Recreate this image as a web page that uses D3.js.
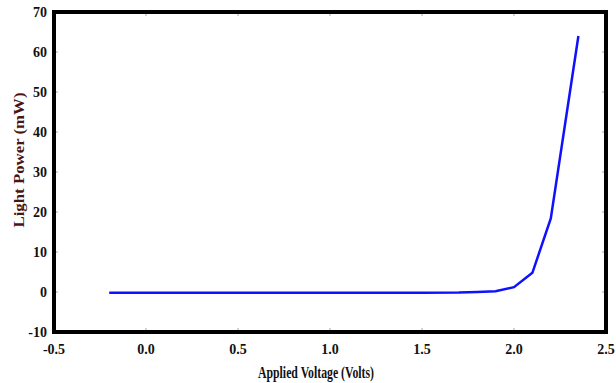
<!DOCTYPE html>
<html>
<head>
<meta charset="utf-8">
<script src="https://cdn.jsdelivr.net/npm/d3@7"></script>
<style>
  body { margin: 0; background: #fff; }
  svg text { font-family: "Liberation Serif", "Times New Roman", serif; font-weight: bold; }
</style>
</head>
<body>
<div id="chart"></div>
<script>
// data
const voltage = [-0.2, 0.5, 1.0, 1.5, 1.7, 1.8, 1.9, 2.0, 2.1, 2.2, 2.35];
const power   = [-0.2, -0.2, -0.2, -0.2, -0.15, 0.0, 0.2, 1.2, 4.8, 18.4, 64];
const xTicks = [-0.5, 0.0, 0.5, 1.0, 1.5, 2.0, 2.5];
const yTicks = [-10, 0, 10, 20, 30, 40, 50, 60, 70];

const W = 616, H = 383;
const MARGIN = { LEFT: 54, RIGHT: 10, TOP: 12, BOTTOM: 51 };
const width = W - MARGIN.LEFT - MARGIN.RIGHT;
const height = H - MARGIN.TOP - MARGIN.BOTTOM;

const svg = d3.select("#chart").append("svg")
    .attr("width", W)
    .attr("height", H);

const g = svg.append("g")
    .attr("transform", `translate(${MARGIN.LEFT}, ${MARGIN.TOP})`);

const x = d3.scaleLinear().domain([-0.5, 2.5]).range([0, width]);
const y = d3.scaleLinear().domain([-10, 70]).range([height, 0]);

// plain hyphen for negatives, like the original
const fmtX = d => d3.format(".1f")(d).replace("−", "-");
const fmtY = d => String(d);

// small inward ticks on all four sides
const tickColor = "#aaa";
g.append("g").selectAll("line").data(xTicks.slice(1, -1)).join("line")
    .attr("x1", d => x(d)).attr("x2", d => x(d))
    .attr("y1", height).attr("y2", height - 4)
    .attr("stroke", tickColor);
g.append("g").selectAll("line").data(xTicks.slice(1, -1)).join("line")
    .attr("x1", d => x(d)).attr("x2", d => x(d))
    .attr("y1", 0).attr("y2", 4)
    .attr("stroke", tickColor);
g.append("g").selectAll("line").data(yTicks.slice(1, -1)).join("line")
    .attr("x1", 0).attr("x2", 4)
    .attr("y1", d => y(d)).attr("y2", d => y(d))
    .attr("stroke", tickColor);
g.append("g").selectAll("line").data(yTicks.slice(1, -1)).join("line")
    .attr("x1", width).attr("x2", width - 4)
    .attr("y1", d => y(d)).attr("y2", d => y(d))
    .attr("stroke", tickColor);

// tick labels
g.append("g").selectAll("text").data(xTicks).join("text")
    .attr("x", d => x(d))
    .attr("y", height + 22)
    .attr("text-anchor", "middle")
    .style("font-size", "14px")
    .attr("fill", "#111")
    .text(fmtX);

g.append("g").selectAll("text").data(yTicks).join("text")
    .attr("x", -7)
    .attr("y", d => y(d) + 5)
    .attr("text-anchor", "end")
    .style("font-size", "14px")
    .attr("fill", "#111")
    .text(fmtY);

// curve
const line = d3.line()
    .x((d, i) => x(voltage[i]))
    .y(d => y(d));

g.append("path")
    .datum(power)
    .attr("fill", "none")
    .attr("stroke", "#1010ff")
    .attr("stroke-width", 2.5)
    .attr("d", line);

// heavy frame
g.append("rect")
    .attr("x", 0).attr("y", 0)
    .attr("width", width).attr("height", height)
    .attr("fill", "none")
    .attr("stroke", "#000")
    .attr("stroke-width", 4);

// axis titles
svg.append("text")
    .attr("x", 316)
    .attr("y", 378)
    .attr("text-anchor", "middle")
    .attr("textLength", 116)
    .attr("lengthAdjust", "spacingAndGlyphs")
    .style("font-size", "16px")
    .attr("fill", "#111")
    .text("Applied Voltage (Volts)");

svg.append("text")
    .attr("transform", "translate(24, 160) rotate(-90)")
    .attr("text-anchor", "middle")
    .attr("textLength", 135)
    .attr("lengthAdjust", "spacingAndGlyphs")
    .style("font-size", "14px")
    .attr("fill", "#4a1414")
    .text("Light Power (mW)");
</script>
</body>
</html>
